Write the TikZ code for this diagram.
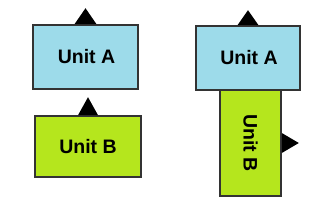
\documentclass[tikz,border=0pt]{standalone}
\usepackage{fontspec}
\setmainfont{Liberation Sans}
\definecolor{unitblue}{HTML}{9DDBEA}
\definecolor{unitgreen}{HTML}{B5E61D}
\definecolor{edgegray}{HTML}{333333}
\begin{document}
\begin{tikzpicture}[x=1pt,y=-1pt,
  unitfont/.style={font=\fontsize{19.5}{21}\selectfont\bfseries},
  unitbox/.style={draw=edgegray,line width=1.6pt,inner sep=0pt,unitfont},
  blueunit/.style={unitbox,fill=unitblue},
  greenunit/.style={unitbox,fill=unitgreen},
  tri/.style={fill=black}]
\useasboundingbox (0,0) rectangle (320,221);
% left
\node[blueunit,minimum width=105pt,minimum height=64pt] (la) at (85.5,57) {\hspace*{2pt}Unit A};
\node[greenunit,minimum width=106pt,minimum height=61pt] (lb) at (88,146.5) {Unit B};
\fill[tri] ([xshift=-11pt]la.north) -- ([yshift=16pt]la.north) -- ([xshift=11pt]la.north) -- cycle;
\fill[tri] ([xshift=-10pt]lb.north) -- ([yshift=18pt]lb.north) -- ([xshift=10pt]lb.north) -- cycle;
% right
\node[greenunit,minimum width=61pt,minimum height=106pt] (rb) at (250.5,143) {};
\node[rotate=-90,unitfont] (rbt) at (rb.center) {Unit B};
\node[blueunit,minimum width=104pt,minimum height=64pt] (ra) at (248,58) {\hspace*{2pt}Unit A};
\fill[tri] ([xshift=-10.5pt]ra.north) -- ([yshift=15pt]ra.north) -- ([xshift=10.5pt]ra.north) -- cycle;
\fill[tri] ([yshift=-10pt]rb.east) -- ([xshift=17pt]rb.east) -- ([yshift=10pt]rb.east) -- cycle;
\end{tikzpicture}
\end{document}
